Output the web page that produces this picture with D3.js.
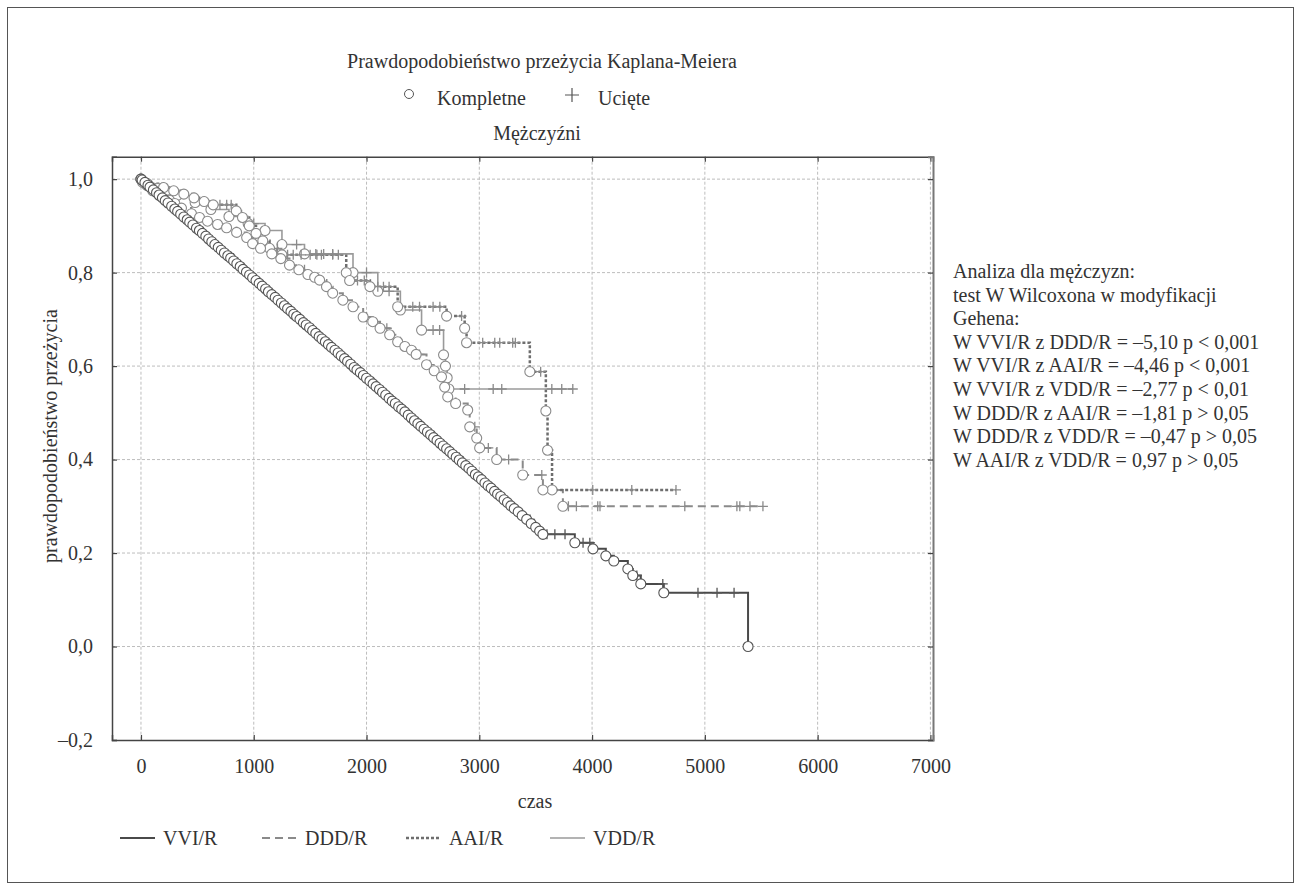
<!DOCTYPE html>
<html>
<head>
<meta charset="utf-8">
<script src="https://cdn.jsdelivr.net/npm/d3@7"></script>
<style>
  body { margin: 0; background: #fff; }
  text { font-family: "Liberation Serif", "Times New Roman", serif; fill: #333; }
</style>
</head>
<body>
<div id="chart"></div>
<script>
// Tick values and labels
var xTicks = [0, 1000, 2000, 3000, 4000, 5000, 6000, 7000];
var yTicks = [-0.2, 0, 0.2, 0.4, 0.6, 0.8, 1.0];
var yTickLabels = ["\u20130,2", "0,0", "0,2", "0,4", "0,6", "0,8", "1,0"];

var groups = ["VVI/R", "DDD/R", "AAI/R", "VDD/R"];

// Complete observations (time, survival after the event)
var vviEvents = [
  [10, 0.998], [35, 0.993], [62, 0.987], [80, 0.983], [110, 0.977], [138, 0.971], [160, 0.966], [190, 0.960],
  [215, 0.954], [240, 0.949], [272, 0.942], [300, 0.936], [325, 0.931], [352, 0.925], [380, 0.919], [410, 0.913],
  [432, 0.908], [460, 0.902], [492, 0.895], [518, 0.890], [545, 0.884], [575, 0.878], [600, 0.872], [628, 0.866],
  [655, 0.860], [685, 0.854], [712, 0.848], [740, 0.842], [770, 0.836], [795, 0.831], [822, 0.825], [850, 0.819],
  [880, 0.813], [905, 0.807], [935, 0.801], [963, 0.795], [990, 0.789], [1020, 0.783], [1048, 0.777], [1075, 0.771],
  [1105, 0.765], [1130, 0.759], [1160, 0.753], [1190, 0.747], [1215, 0.741], [1245, 0.735], [1272, 0.729], [1300, 0.723],
  [1330, 0.717], [1355, 0.711], [1380, 0.706], [1410, 0.700], [1440, 0.693], [1465, 0.688], [1495, 0.682], [1522, 0.676],
  [1550, 0.670], [1580, 0.663], [1605, 0.658], [1635, 0.652], [1662, 0.646], [1690, 0.640], [1720, 0.634], [1748, 0.628],
  [1775, 0.622], [1805, 0.616], [1832, 0.610], [1860, 0.604], [1890, 0.597], [1915, 0.592], [1945, 0.586], [1972, 0.580],
  [2000, 0.574], [2030, 0.568], [2058, 0.562], [2085, 0.556], [2115, 0.550], [2142, 0.544], [2170, 0.538], [2200, 0.531],
  [2228, 0.525], [2255, 0.520], [2285, 0.513], [2312, 0.508], [2340, 0.502], [2370, 0.495], [2398, 0.489], [2425, 0.483],
  [2455, 0.477], [2482, 0.471], [2510, 0.465], [2540, 0.459], [2568, 0.453], [2595, 0.447], [2625, 0.441], [2652, 0.435],
  [2680, 0.429], [2710, 0.423], [2738, 0.417], [2765, 0.411], [2795, 0.405], [2822, 0.399], [2850, 0.393], [2880, 0.387],
  [2908, 0.381], [2935, 0.375], [2965, 0.368], [2992, 0.363], [3020, 0.357], [3050, 0.350], [3078, 0.344], [3105, 0.339],
  [3135, 0.332], [3162, 0.326], [3190, 0.321], [3220, 0.314], [3250, 0.308], [3280, 0.301], [3310, 0.295], [3345, 0.288],
  [3380, 0.280], [3420, 0.272], [3460, 0.263], [3500, 0.255], [3535, 0.247], [3564, 0.240],
  [3847, 0.222], [4008, 0.209], [4122, 0.194], [4193, 0.183], [4317, 0.166], [4361, 0.152], [4432, 0.134],
  [4636, 0.115], [5383, 0.0]
];
var dddEvents = [
  [15, 0.993], [55, 0.986], [104, 0.975], [164, 0.965], [253, 0.955], [300, 0.948], [359, 0.938], [448, 0.926],
  [519, 0.918], [590, 0.910], [679, 0.903], [759, 0.896], [848, 0.886], [937, 0.875], [990, 0.862], [1060, 0.852],
  [1160, 0.840], [1240, 0.830], [1317, 0.816], [1400, 0.806], [1480, 0.796], [1540, 0.790], [1584, 0.784], [1645, 0.770],
  [1700, 0.756], [1790, 0.741], [1880, 0.727], [1970, 0.705], [2055, 0.695], [2120, 0.681], [2205, 0.667], [2276, 0.652],
  [2340, 0.642], [2399, 0.634], [2440, 0.625], [2532, 0.603], [2600, 0.590], [2665, 0.577], [2693, 0.555], [2720, 0.534],
  [2790, 0.520], [2897, 0.506], [2915, 0.470], [2977, 0.446], [3003, 0.425], [3154, 0.400], [3385, 0.367], [3564, 0.335],
  [3741, 0.300]
];
var aaiEvents = [
  [60, 0.990], [200, 0.982], [290, 0.975], [380, 0.968], [470, 0.960], [560, 0.952], [640, 0.945], [845, 0.932],
  [900, 0.918], [960, 0.900], [1020, 0.884], [1080, 0.868], [1140, 0.852], [1250, 0.838], [1820, 0.800], [1850, 0.783],
  [2030, 0.770], [2276, 0.727], [2710, 0.707], [2870, 0.681], [2887, 0.650], [3448, 0.588], [3590, 0.504], [3605, 0.420],
  [3645, 0.335]
];
var vddEvents = [
  [40, 0.990], [150, 0.980], [320, 0.965], [480, 0.950], [620, 0.935], [780, 0.920], [950, 0.905], [1100, 0.890],
  [1250, 0.860], [1450, 0.840], [1880, 0.800], [2100, 0.760], [2300, 0.720], [2488, 0.677], [2683, 0.624], [2700, 0.600],
  [2715, 0.575], [2730, 0.551]
];

// Censored observations (time only)
var vviCensored = [300, 820, 1650, 2500, 2820, 3290, 3450, 3600, 3670, 3760, 3920, 3980, 4397, 4627, 4939, 5108, 5259];
var dddCensored = [450, 700, 1200, 1450, 1800, 2000, 2180, 2300, 2470, 2560, 2960, 3080, 3260, 3554, 3790, 3861, 4050,
  4070, 4822, 5284, 5310, 5400, 5515];
var aaiCensored = [700, 760, 800, 1210, 1300, 1350, 1420, 1500, 1560, 1600, 1700, 1750, 1920, 1980, 2100, 2150, 2200,
  2410, 2470, 2590, 2650, 2843, 3030, 3137, 3181, 3296, 3320, 3544, 4006, 4352, 4744];
var vddCensored = [1000, 1380, 1550, 1620, 1700, 2000, 2200, 2590, 2648, 2870, 3123, 3199, 3643, 3731, 3829];

var statLines = [
  "Analiza dla m\u0119\u017cczyzn:",
  "test W Wilcoxona w modyfikacji",
  "Gehena:",
  "W VVI/R z DDD/R = \u20135,10 p < 0,001",
  "W VVI/R z AAI/R = \u20134,46 p < 0,001",
  "W VVI/R z VDD/R = \u20132,77 p < 0,01",
  "W DDD/R z AAI/R = \u20131,81 p > 0,05",
  "W DDD/R z VDD/R = \u20130,47 p > 0,05",
  "W AAI/R z VDD/R = 0,97 p > 0,05"
];

var series = [
  { name: groups[0], events: vviEvents, censored: vviCensored, color: "#4a4a4a", mark: "#555", width: 2, dash: null },
  { name: groups[1], events: dddEvents, censored: dddCensored, color: "#8a8a8a", mark: "#8a8a8a", width: 2, dash: "8,5" },
  { name: groups[2], events: aaiEvents, censored: aaiCensored, color: "#6e6e6e", mark: "#8a8a8a", width: 2.5, dash: "3,2" },
  { name: groups[3], events: vddEvents, censored: vddCensored, color: "#9a9a9a", mark: "#8a8a8a", width: 1.6, dash: null }
];

var W = 1301, H = 892;
var svg = d3.select("#chart").append("svg").attr("width", W).attr("height", H);

svg.append("rect").attr("x", 7.5).attr("y", 7.5).attr("width", 1286).attr("height", 875)
  .attr("fill", "none").attr("stroke", "#555").attr("stroke-width", 1);

var pLeft = 112, pRight = 933, pTop = 156.7, pBottom = 740;
var x = d3.scaleLinear().domain([-257, 7023]).range([pLeft, pRight]);
var y = d3.scaleLinear().domain([-0.2, 1.048]).range([pBottom, pTop]);

// titles
svg.append("text").attr("x", 542).attr("y", 68).attr("text-anchor", "middle").style("font-size", "20px")
  .text("Prawdopodobie\u0144stwo prze\u017cycia Kaplana-Meiera");
svg.append("circle").attr("cx", 409).attr("cy", 94).attr("r", 4.5).attr("fill", "#fff").attr("stroke", "#555");
svg.append("text").attr("x", 437).attr("y", 105).style("font-size", "20px").text("Kompletne");
svg.append("path").attr("d", "M565,95H579M572,88V102").attr("stroke", "#555").attr("stroke-width", 1.2);
svg.append("text").attr("x", 598).attr("y", 105).style("font-size", "20px").text("Uci\u0119te");
svg.append("text").attr("x", 537).attr("y", 140).attr("text-anchor", "middle").style("font-size", "20px")
  .text("M\u0119\u017cczy\u017ani");

// grid
var grid = svg.append("g");
grid.selectAll("line.vx").data(xTicks).enter().append("line")
  .attr("x1", function (d) { return x(d); }).attr("x2", function (d) { return x(d); })
  .attr("y1", pTop).attr("y2", pBottom);
grid.selectAll("line.hy").data(yTicks.slice(1)).enter().append("line")
  .attr("x1", pLeft).attr("x2", pRight)
  .attr("y1", function (d) { return y(d); }).attr("y2", function (d) { return y(d); });
grid.selectAll("line").attr("stroke", "#bdbdbd").attr("stroke-width", 1).attr("stroke-dasharray", "3,2");

// axes
var fmtY = function (d) { return yTickLabels[yTicks.indexOf(d)]; };
var gl = svg.append("g").attr("transform", "translate(" + pLeft + ",0)")
  .call(d3.axisLeft(y).tickValues(yTicks).tickSize(-5).tickPadding(19).tickFormat(fmtY));
var gb = svg.append("g").attr("transform", "translate(0," + pBottom + ")")
  .call(d3.axisBottom(x).tickValues(xTicks).tickSize(-5).tickPadding(19).tickFormat(d3.format("d")));
var gt = svg.append("g").attr("transform", "translate(0," + pTop + ")")
  .call(d3.axisTop(x).tickValues(xTicks).tickSize(-5).tickFormat(""));
var gr = svg.append("g").attr("transform", "translate(" + pRight + ",0)")
  .call(d3.axisRight(y).tickValues(yTicks).tickSize(-5).tickFormat(""));
[gl, gb, gt, gr].forEach(function (g) {
  g.select(".domain").attr("stroke", "#444").attr("stroke-width", 1.5);
  g.selectAll(".tick line").attr("stroke", "#444").attr("stroke-width", 1.2);
  g.selectAll(".tick text").style("font-family", "Liberation Serif").style("font-size", "20px").attr("fill", "#333");
});
gr.select(".domain").attr("stroke", "#777").attr("stroke-width", 2);

svg.append("text").attr("x", 535).attr("y", 808).attr("text-anchor", "middle").style("font-size", "20px").text("czas");
svg.append("text").attr("transform", "translate(57,436) rotate(-90)").attr("text-anchor", "middle")
  .style("font-size", "20px").text("prawdopodobie\u0144stwo prze\u017cycia");

// survival at time t (step function of the events)
function survAt(events, t) {
  var s = 1;
  events.forEach(function (e) { if (e[0] <= t) s = e[1]; });
  return s;
}

var line = d3.line().x(function (d) { return x(d[0]); }).y(function (d) { return y(d[1]); }).curve(d3.curveStepAfter);
var plot = svg.append("g");

series.forEach(function (s) {
  var pts = s.events.slice();
  s.censored.forEach(function (t) { pts.push([t, survAt(s.events, t)]); });
  pts.sort(function (a, b) { return a[0] - b[0]; });
  pts.unshift([0, 1]);
  plot.append("path").datum(pts).attr("d", line).attr("fill", "none")
    .attr("stroke", s.color).attr("stroke-width", s.width)
    .attr("stroke-dasharray", s.dash);
});

series.slice().reverse().forEach(function (s) {
  plot.append("g").selectAll("path").data(s.censored).enter().append("path")
    .attr("transform", function (t) { return "translate(" + x(t) + "," + y(survAt(s.events, t)) + ")"; })
    .attr("d", "M-5,0H5M0,-5V5").attr("stroke", s.mark).attr("stroke-width", 1.3);
  plot.append("g").selectAll("circle").data([[0, 1]].concat(s.events)).enter().append("circle")
    .attr("cx", function (d) { return x(d[0]); }).attr("cy", function (d) { return y(d[1]); })
    .attr("r", 5).attr("fill", "#fff").attr("stroke", s.mark).attr("stroke-width", 1.1);
});

// stats text
svg.append("g").selectAll("text").data(statLines).enter().append("text")
  .attr("x", 953).attr("y", function (d, i) { return 278 + i * 23.6; })
  .style("font-size", "20px").text(function (d) { return d; });

// bottom legend
var leg = svg.append("g").selectAll("g").data(series).enter().append("g")
  .attr("transform", function (d, i) { return "translate(" + [120, 262, 406, 550][i] + ",838)"; });
leg.append("line").attr("x1", 0).attr("x2", 35).attr("y1", 0).attr("y2", 0)
  .attr("stroke", function (d) { return d.color; }).attr("stroke-width", function (d) { return d.width; })
  .attr("stroke-dasharray", function (d) { return d.dash; });
leg.append("text").attr("x", 43).attr("y", 7).style("font-size", "20px").text(function (d) { return d.name; });
</script>
</body>
</html>
